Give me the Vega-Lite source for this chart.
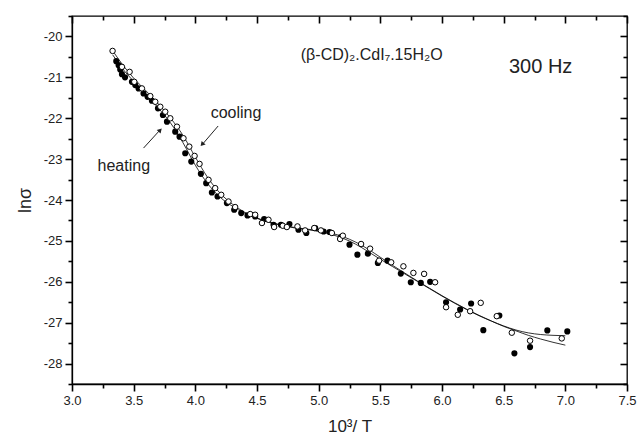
{
 "$schema": "https://vega.github.io/schema/vega-lite/v6.json",
 "width": 555, "height": 368,
 "autosize": "none",
 "padding": {"left": 72, "top": 16, "right": 11, "bottom": 61},
 "background": "white",
 "config": {
  "view": {"stroke": "black", "strokeWidth": 1.3},
  "font": "Liberation Sans",
  "axis": {"domainColor": "black", "domainWidth": 1.3, "tickColor": "black", "tickWidth": 1.6, "labelColor": "#222", "titleColor": "#222", "labelFont": "Liberation Sans", "titleFont": "Liberation Sans", "labelFontSize": 13, "titleFontWeight": "normal", "grid": false, "labelOverlap": false, "labelFlush": false}
 },
 "datasets": {
  "curves": [
   {"s":"heating","x":3.33,"y":-20.45},{"s":"heating","x":3.4,"y":-20.75},{"s":"heating","x":3.5,"y":-21.1},{"s":"heating","x":3.6,"y":-21.42},{"s":"heating","x":3.7,"y":-21.75},{"s":"heating","x":3.8,"y":-22.12},{"s":"heating","x":3.9,"y":-22.6},{"s":"heating","x":4.0,"y":-23.15},{"s":"heating","x":4.1,"y":-23.6},{"s":"heating","x":4.2,"y":-23.93},{"s":"heating","x":4.3,"y":-24.15},{"s":"heating","x":4.4,"y":-24.32},{"s":"heating","x":4.5,"y":-24.45},{"s":"heating","x":4.6,"y":-24.55},{"s":"heating","x":4.7,"y":-24.62},{"s":"heating","x":4.8,"y":-24.68},{"s":"heating","x":4.9,"y":-24.72},{"s":"heating","x":5.0,"y":-24.77},{"s":"heating","x":5.1,"y":-24.84},{"s":"heating","x":5.2,"y":-24.94},{"s":"heating","x":5.3,"y":-25.08},{"s":"heating","x":5.4,"y":-25.26},{"s":"heating","x":5.5,"y":-25.45},{"s":"heating","x":5.6,"y":-25.63},{"s":"heating","x":5.7,"y":-25.81},{"s":"heating","x":5.8,"y":-25.99},{"s":"heating","x":5.9,"y":-26.17},{"s":"heating","x":6.0,"y":-26.35},{"s":"heating","x":6.1,"y":-26.52},{"s":"heating","x":6.2,"y":-26.68},{"s":"heating","x":6.3,"y":-26.83},{"s":"heating","x":6.4,"y":-26.96},{"s":"heating","x":6.5,"y":-27.08},{"s":"heating","x":6.6,"y":-27.18},{"s":"heating","x":6.7,"y":-27.25},{"s":"heating","x":6.8,"y":-27.29},{"s":"heating","x":6.9,"y":-27.31},{"s":"heating","x":7.0,"y":-27.32},
   {"s":"cooling","x":3.33,"y":-20.35},{"s":"cooling","x":3.4,"y":-20.65},{"s":"cooling","x":3.5,"y":-21.02},{"s":"cooling","x":3.6,"y":-21.33},{"s":"cooling","x":3.7,"y":-21.65},{"s":"cooling","x":3.8,"y":-22.0},{"s":"cooling","x":3.9,"y":-22.42},{"s":"cooling","x":4.0,"y":-22.95},{"s":"cooling","x":4.1,"y":-23.45},{"s":"cooling","x":4.2,"y":-23.83},{"s":"cooling","x":4.3,"y":-24.1},{"s":"cooling","x":4.4,"y":-24.3},{"s":"cooling","x":4.5,"y":-24.44},{"s":"cooling","x":4.6,"y":-24.54},{"s":"cooling","x":4.7,"y":-24.61},{"s":"cooling","x":4.8,"y":-24.67},{"s":"cooling","x":4.9,"y":-24.71},{"s":"cooling","x":5.0,"y":-24.75},{"s":"cooling","x":5.1,"y":-24.81},{"s":"cooling","x":5.2,"y":-24.9},{"s":"cooling","x":5.3,"y":-25.03},{"s":"cooling","x":5.4,"y":-25.2},{"s":"cooling","x":5.5,"y":-25.4},{"s":"cooling","x":5.6,"y":-25.6},{"s":"cooling","x":5.7,"y":-25.79},{"s":"cooling","x":5.8,"y":-25.98},{"s":"cooling","x":5.9,"y":-26.16},{"s":"cooling","x":6.0,"y":-26.34},{"s":"cooling","x":6.1,"y":-26.51},{"s":"cooling","x":6.2,"y":-26.67},{"s":"cooling","x":6.3,"y":-26.82},{"s":"cooling","x":6.4,"y":-26.96},{"s":"cooling","x":6.5,"y":-27.09},{"s":"cooling","x":6.6,"y":-27.2},{"s":"cooling","x":6.7,"y":-27.31},{"s":"cooling","x":6.8,"y":-27.4},{"s":"cooling","x":6.9,"y":-27.48},{"s":"cooling","x":7.0,"y":-27.55}
  ],
  "heating": [
   {"x":3.359,"y":-20.605},{"x":3.378,"y":-20.702},{"x":3.391,"y":-20.807},{"x":3.405,"y":-20.922},{"x":3.43,"y":-21.0},{"x":3.486,"y":-21.11},{"x":3.513,"y":-21.19},{"x":3.54,"y":-21.271},{"x":3.58,"y":-21.393},{"x":3.613,"y":-21.476},{"x":3.648,"y":-21.573},{"x":3.697,"y":-21.759},{"x":3.737,"y":-21.922},{"x":3.77,"y":-22.085},{"x":3.837,"y":-22.329},{"x":3.872,"y":-22.451},{"x":3.918,"y":-22.856},{"x":3.967,"y":-23.061},{"x":4.045,"y":-23.361},{"x":4.088,"y":-23.588},{"x":4.134,"y":-23.817},{"x":4.18,"y":-23.915},{"x":4.256,"y":-24.076},{"x":4.315,"y":-24.239},{"x":4.372,"y":-24.32},{"x":4.423,"y":-24.378},{"x":4.485,"y":-24.402},{"x":4.558,"y":-24.466},{"x":4.634,"y":-24.605},{"x":4.694,"y":-24.605},{"x":4.763,"y":-24.588},{"x":4.836,"y":-24.727},{"x":4.9,"y":-24.807},{"x":4.972,"y":-24.685},{"x":5.04,"y":-24.77},{"x":5.088,"y":-24.783},{"x":5.18,"y":-24.905},{"x":5.25,"y":-25.093},{"x":5.314,"y":-25.337},{"x":5.399,"y":-25.312},{"x":5.48,"y":-25.539},{"x":5.558,"y":-25.483},{"x":5.666,"y":-25.8},{"x":5.747,"y":-26.012},{"x":5.828,"y":-26.027},{"x":5.904,"y":-26.002},{"x":6.033,"y":-26.5},{"x":6.147,"y":-26.678},{"x":6.236,"y":-26.532},{"x":6.335,"y":-27.183},{"x":6.465,"y":-26.824},{"x":6.587,"y":-27.751},{"x":6.714,"y":-27.598},{"x":6.854,"y":-27.19},{"x":7.016,"y":-27.215}
  ],
  "cooling": [
   {"x":3.329,"y":-20.354},{"x":3.405,"y":-20.744},{"x":3.467,"y":-20.866},{"x":3.505,"y":-21.11},{"x":3.567,"y":-21.271},{"x":3.635,"y":-21.459},{"x":3.675,"y":-21.598},{"x":3.716,"y":-21.72},{"x":3.756,"y":-21.841},{"x":3.797,"y":-22.002},{"x":3.851,"y":-22.207},{"x":3.904,"y":-22.49},{"x":3.951,"y":-22.695},{"x":3.994,"y":-22.922},{"x":4.034,"y":-23.117},{"x":4.107,"y":-23.507},{"x":4.161,"y":-23.71},{"x":4.21,"y":-23.873},{"x":4.269,"y":-24.037},{"x":4.323,"y":-24.173},{"x":4.445,"y":-24.344},{"x":4.485,"y":-24.361},{"x":4.54,"y":-24.563},{"x":4.593,"y":-24.483},{"x":4.639,"y":-24.661},{"x":4.709,"y":-24.629},{"x":4.742,"y":-24.661},{"x":4.828,"y":-24.646},{"x":4.89,"y":-24.744},{"x":4.964,"y":-24.685},{"x":5.018,"y":-24.744},{"x":5.107,"y":-24.807},{"x":5.174,"y":-24.954},{"x":5.196,"y":-24.873},{"x":5.344,"y":-25.076},{"x":5.417,"y":-25.19},{"x":5.49,"y":-25.483},{"x":5.588,"y":-25.524},{"x":5.687,"y":-25.622},{"x":5.768,"y":-25.783},{"x":5.855,"y":-25.807},{"x":5.944,"y":-26.012},{"x":6.033,"y":-26.622},{"x":6.128,"y":-26.807},{"x":6.228,"y":-26.72},{"x":6.314,"y":-26.515},{"x":6.444,"y":-26.841},{"x":6.566,"y":-27.246},{"x":6.714,"y":-27.441},{"x":6.971,"y":-27.385}
  ],
  "labels": [
   {"t":"heating","x":3.42,"y":-23.17,"fs":16},
   {"t":"cooling","x":4.33,"y":-21.87,"fs":16},
   {"t":"(β-CD)₂.CdI₇.15H₂O","x":5.43,"y":-20.45,"fs":16},
   {"t":"300 Hz","x":6.8,"y":-20.75,"fs":20}
  ],
  "arrows": [
   {"x":3.58,"y":-22.73,"x2":3.71,"y2":-22.3,"hx":3.715,"hy":-22.29,"a":43},
   {"x":4.185,"y":-22.19,"x2":4.06,"y2":-22.63,"hx":4.055,"hy":-22.64,"a":221}
  ]
 },
 "resolve": {"axis": {"x": "independent", "y": "independent"}},
 "layer": [
  {
   "data": {"name": "curves"},
   "mark": {"type": "line", "color": "black", "strokeWidth": 0.8, "interpolate": "monotone"},
   "encoding": {
    "x": {"field": "x", "type": "quantitative", "scale": {"domain": [3, 7.5], "nice": false, "zero": false},
     "axis": {"orient": "bottom", "values": [3,3.5,4,4.5,5,5.5,6,6.5,7,7.5], "format": ".1f", "tickSize": 7,
      "labelPadding": 3, "title": "10³/ T", "titleFontSize": 17, "titlePadding": 11}},
    "y": {"field": "y", "type": "quantitative", "scale": {"domain": [-28.5, -19.5], "nice": false, "zero": false},
     "axis": {"orient": "left", "values": [-28,-27,-26,-25,-24,-23,-22,-21,-20], "labelExpr": "''+datum.value", "tickSize": 7,
      "labelPadding": 3, "title": "lnσ", "titleFontSize": 18, "titlePadding": 9}},
    "detail": {"field": "s"}
   }
  },
  {
   "data": {"name": "curves"},
   "mark": {"type": "point", "opacity": 0},
   "encoding": {
    "x": {"field": "x", "type": "quantitative",
     "axis": {"orient": "bottom", "values": [3.25,3.75,4.25,4.75,5.25,5.75,6.25,6.75,7.25], "labels": false, "domain": false, "title": null, "tickSize": 4}},
    "y": {"field": "y", "type": "quantitative",
     "axis": {"orient": "left", "values": [-28.5,-27.5,-26.5,-25.5,-24.5,-23.5,-22.5,-21.5,-20.5,-19.5], "labels": false, "domain": false, "title": null, "tickSize": 4}}
   }
  },
  {
   "data": {"name": "curves"},
   "mark": {"type": "point", "opacity": 0},
   "encoding": {
    "x": {"field": "x", "type": "quantitative",
     "axis": {"orient": "bottom", "offset": -368, "values": [3,3.5,4,4.5,5,5.5,6,6.5,7,7.5], "labels": false, "domain": false, "title": null, "tickSize": 7}},
    "y": {"field": "y", "type": "quantitative",
     "axis": {"orient": "left", "offset": -555, "values": [-28,-27,-26,-25,-24,-23,-22,-21,-20], "labels": false, "domain": false, "title": null, "tickSize": 7}}
   }
  },
  {
   "data": {"name": "curves"},
   "mark": {"type": "point", "opacity": 0},
   "encoding": {
    "x": {"field": "x", "type": "quantitative",
     "axis": {"orient": "bottom", "offset": -368, "values": [3.25,3.75,4.25,4.75,5.25,5.75,6.25,6.75,7.25], "labels": false, "domain": false, "title": null, "tickSize": 4}},
    "y": {"field": "y", "type": "quantitative",
     "axis": {"orient": "left", "offset": -555, "values": [-28.5,-27.5,-26.5,-25.5,-24.5,-23.5,-22.5,-21.5,-20.5,-19.5], "labels": false, "domain": false, "title": null, "tickSize": 4}}
   }
  },
  {
   "data": {"name": "heating"},
   "mark": {"type": "point", "shape": "circle", "filled": true, "color": "black", "size": 38, "opacity": 1},
   "encoding": {
    "x": {"field": "x", "type": "quantitative", "axis": null},
    "y": {"field": "y", "type": "quantitative", "axis": null}
   }
  },
  {
   "data": {"name": "cooling"},
   "mark": {"type": "point", "shape": "circle", "filled": false, "fill": "white", "fillOpacity": 1, "stroke": "black", "strokeWidth": 1, "size": 30, "opacity": 1},
   "encoding": {
    "x": {"field": "x", "type": "quantitative", "axis": null},
    "y": {"field": "y", "type": "quantitative", "axis": null}
   }
  },
  {
   "data": {"name": "labels"},
   "mark": {"type": "text", "font": "Liberation Sans", "color": "#222", "align": "center", "baseline": "middle"},
   "encoding": {
    "x": {"field": "x", "type": "quantitative", "axis": null},
    "y": {"field": "y", "type": "quantitative", "axis": null},
    "text": {"field": "t"},
    "size": {"field": "fs", "type": "quantitative", "scale": null}
   }
  },
  {
   "data": {"name": "arrows"},
   "mark": {"type": "rule", "color": "#222", "strokeWidth": 1},
   "encoding": {
    "x": {"field": "x", "type": "quantitative", "axis": null},
    "y": {"field": "y", "type": "quantitative", "axis": null},
    "x2": {"field": "x2"},
    "y2": {"field": "y2"}
   }
  },
  {
   "data": {"name": "arrows"},
   "mark": {"type": "point", "shape": "triangle-up", "filled": true, "color": "#222", "size": 28, "opacity": 1},
   "encoding": {
    "x": {"field": "hx", "type": "quantitative", "axis": null},
    "y": {"field": "hy", "type": "quantitative", "axis": null},
    "angle": {"field": "a", "type": "quantitative", "scale": null}
   }
  }
 ]
}
